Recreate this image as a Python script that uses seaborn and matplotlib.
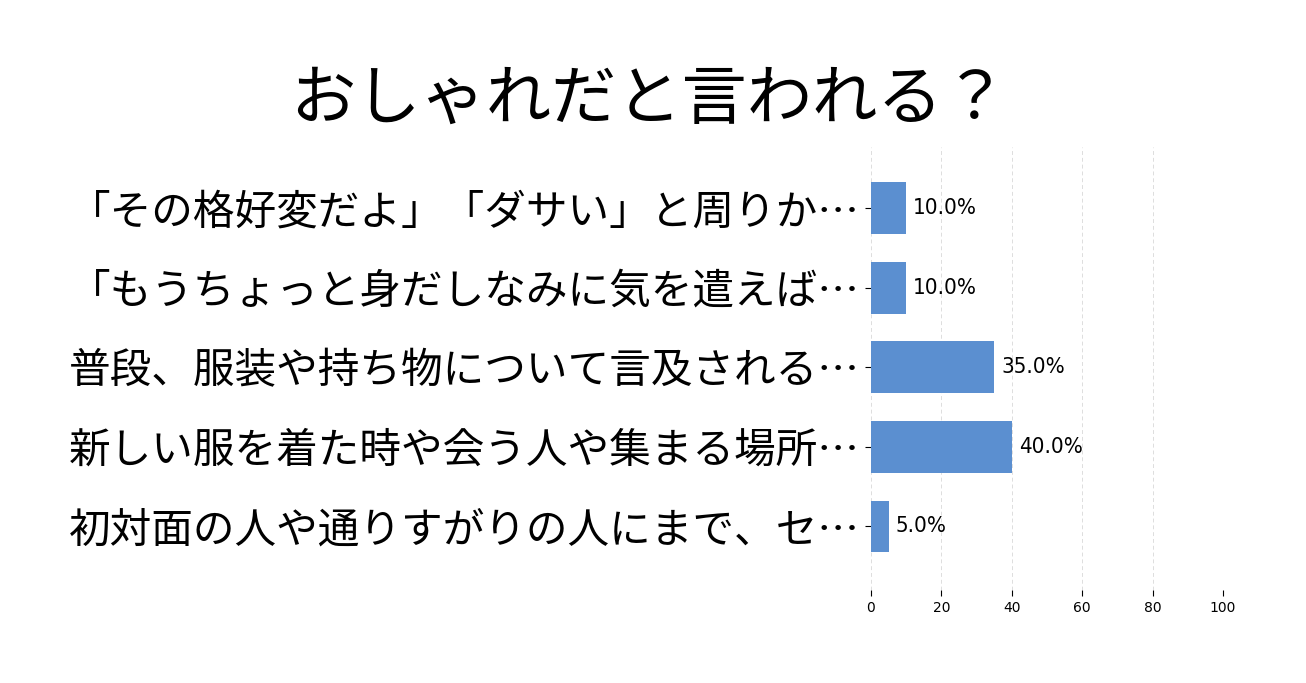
import matplotlib
matplotlib.use('Agg')
import matplotlib.pyplot as plt
import pandas as pd
import seaborn as sns

# data
labels = ['「その格好変だよ」「ダサい」と周りか…',
          '「もうちょっと身だしなみに気を遣えば…',
          '普段、服装や持ち物について言及される…',
          '新しい服を着た時や会う人や集まる場所…',
          '初対面の人や通りすがりの人にまで、セ…']
values = [10.0, 10.0, 35.0, 40.0, 5.0]
xticks = [0, 20, 40, 60, 80, 100]
title = 'おしゃれだと言われる？'

df = pd.DataFrame({'label': labels, 'value': values})

sns.set_style('white')
plt.rcParams['font.family'] = ['Noto Sans CJK JP', 'DejaVu Sans']
plt.rcParams['text.color'] = 'black'
plt.rcParams['xtick.color'] = 'black'
plt.rcParams['ytick.color'] = 'black'

fig = plt.figure(figsize=(13.06, 6.83), dpi=100, facecolor='white')
ax = fig.add_axes([871 / 1306, 1 - 590 / 683, (1223 - 871) / 1306, (590 - 147) / 683])

sns.barplot(data=df, x='value', y='label', color='#5b8fd0', saturation=1,
            width=0.65, orient='h', linewidth=0, ax=ax)

ax.set_xlim(0, 100)
ax.set_ylim(4.8, -0.77)
ax.set_xticks(xticks)
ax.set_xticklabels([str(t) for t in xticks], fontsize=10, family='DejaVu Sans')
ax.set_xlabel('')
ax.set_ylabel('')
ax.tick_params(axis='y', labelsize=30, length=4, pad=4, left=True, labelcolor='black')
ax.tick_params(axis='x', length=4, pad=4, bottom=True, labelcolor='black')
for s in ax.spines.values():
    s.set_visible(False)
ax.xaxis.grid(True, linestyle=(0, (4, 3)), color='#dddddd', linewidth=0.7)
ax.set_axisbelow(True)

for i, v in enumerate(values):
    ax.text(v + 2, i, f'{v:.1f}%', va='center', ha='left', fontsize=16,
            family='DejaVu Sans', fontstretch='condensed', color='black')

fig.text(0.497, 1 - 100 / 683, title, ha='center', va='center', fontsize=47, color='black')

fig.savefig('out.png', dpi=100, facecolor='white')
